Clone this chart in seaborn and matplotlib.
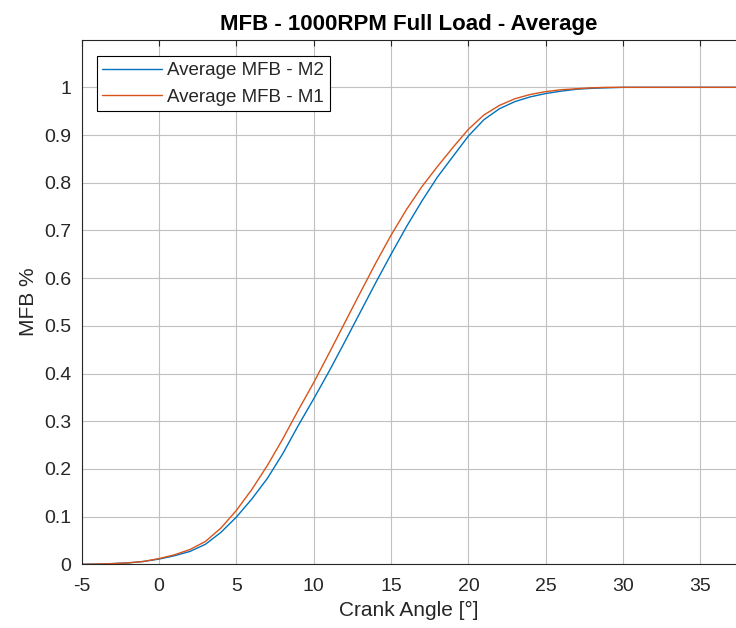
import numpy as np
import pandas as pd
import matplotlib
matplotlib.use("Agg")
import matplotlib.pyplot as plt
import seaborn as sns
from matplotlib.ticker import FormatStrFormatter

# ---- data ----
crank_angle = [-5, -4, -3, -2, -1, 0, 1, 2, 3, 4, 5, 6, 7, 8, 9, 10, 11, 12, 13, 14,
               15, 16, 17, 18, 19, 20, 21, 22, 23, 24, 25, 26, 27, 28, 29, 30, 37.5]
mfb_m2 = [0.0, 0.0005, 0.0015, 0.003, 0.006, 0.011, 0.018, 0.027, 0.042, 0.067,
          0.099, 0.137, 0.18, 0.232, 0.291, 0.347, 0.405, 0.466, 0.528, 0.59,
          0.65, 0.708, 0.762, 0.812, 0.855, 0.898, 0.932, 0.955, 0.97, 0.98,
          0.987, 0.992, 0.996, 0.998, 0.999, 1.0, 1.0]
mfb_m1 = [0.0, 0.0005, 0.0015, 0.003, 0.006, 0.012, 0.02, 0.031, 0.048, 0.076,
          0.113, 0.157, 0.207, 0.263, 0.323, 0.381, 0.443, 0.506, 0.569, 0.631,
          0.69, 0.744, 0.792, 0.834, 0.874, 0.912, 0.942, 0.962, 0.976, 0.985,
          0.991, 0.995, 0.997, 0.999, 1.0, 1.0, 1.0]
series_names = ["Average MFB - M2", "Average MFB - M1"]
x_ticks = [-5, 0, 5, 10, 15, 20, 25, 30, 35]
y_ticks = [0, 0.1, 0.2, 0.3, 0.4, 0.5, 0.6, 0.7, 0.8, 0.9, 1.0]

df = pd.concat([
    pd.DataFrame({"angle": crank_angle, "mfb": mfb_m2, "series": series_names[0]}),
    pd.DataFrame({"angle": crank_angle, "mfb": mfb_m1, "series": series_names[1]}),
])

sns.set_style("white")
plt.rcParams["font.family"] = ["Liberation Sans", "DejaVu Sans"]
plt.rcParams["axes.unicode_minus"] = False

fig = plt.figure(figsize=(7.36, 6.28), dpi=100)
ax = fig.add_axes([0.111, 0.1014, 0.889, 0.8355])

sns.lineplot(data=df, x="angle", y="mfb", hue="series", hue_order=series_names,
             palette=["#0072BD", "#D95319"], linewidth=1.0, ax=ax, sort=False)

ax.set_xlim(-5, 37.3)
ax.set_ylim(0, 1.1)
ax.set_xticks(x_ticks)
ax.set_yticks(y_ticks)
ax.yaxis.set_major_formatter(FormatStrFormatter("%g"))
ax.grid(True, color="#c0c0c0", linewidth=0.8)
ax.set_axisbelow(True)
ax.tick_params(axis="both", direction="in", length=4, labelsize=14,
               colors="#262626", top=True, right=False)
ax.tick_params(axis="x", pad=10)
ax.tick_params(axis="y", pad=7.5)
for s in ["left", "bottom", "top"]:
    ax.spines[s].set_color("#262626")
    ax.spines[s].set_linewidth(0.8)
ax.spines["right"].set_visible(False)

ax.set_xlabel("Crank Angle [°]", fontsize=15, color="#262626", labelpad=4)
ax.set_ylabel("MFB %", fontsize=15, color="#262626", labelpad=4)
ax.set_title("MFB - 1000RPM Full Load - Average", fontsize=16, fontweight="bold",
             color="black", pad=7)

leg = ax.legend(loc="upper left", bbox_to_anchor=(0.023, 0.968), fontsize=13.5,
                frameon=True, fancybox=False, edgecolor="black", framealpha=1,
                handlelength=3.2, borderpad=0.3, labelspacing=0.5,
                handletextpad=0.27, borderaxespad=0)
leg.get_frame().set_linewidth(0.8)

fig.savefig("out.png", dpi=100)
